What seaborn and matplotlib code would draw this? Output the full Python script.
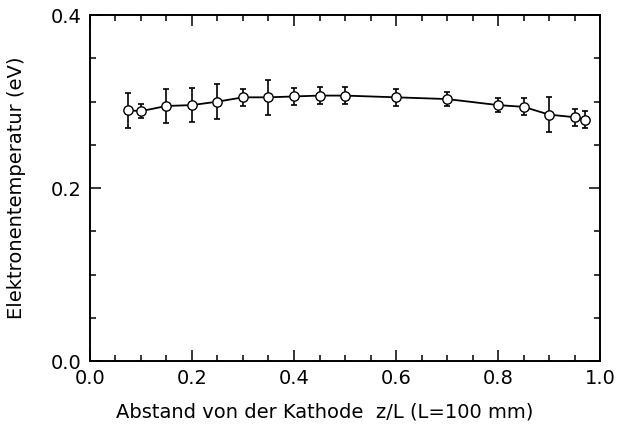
import numpy as np
import pandas as pd
import matplotlib
matplotlib.use("Agg")
import matplotlib.pyplot as plt
from matplotlib.ticker import MultipleLocator, FormatStrFormatter
import seaborn as sns

# Measured electron temperature along the discharge axis
z_over_L = [0.075, 0.10, 0.15, 0.20, 0.25, 0.30, 0.35, 0.40, 0.45, 0.50,
            0.60, 0.70, 0.80, 0.85, 0.90, 0.95, 0.97]
temperature_eV = [0.290, 0.289, 0.295, 0.296, 0.300, 0.305, 0.305, 0.306, 0.307, 0.307,
                  0.305, 0.303, 0.296, 0.294, 0.285, 0.282, 0.279]
error_eV = [0.020, 0.008, 0.020, 0.020, 0.020, 0.010, 0.020, 0.010, 0.010, 0.010,
            0.010, 0.008, 0.008, 0.010, 0.020, 0.010, 0.010]

df = pd.DataFrame({"z": z_over_L, "Te": temperature_eV, "err": error_eV})

sns.set_theme(style="white")
plt.rcParams["font.family"] = ["DejaVu Sans"]
plt.rcParams["text.color"] = "black"
plt.rcParams["axes.labelcolor"] = "black"
plt.rcParams["xtick.color"] = "black"
plt.rcParams["ytick.color"] = "black"

fig = plt.figure(figsize=(6.2, 4.33), dpi=100)
ax = fig.add_axes([0.145, 0.166, 0.823, 0.799])

sns.lineplot(data=df, x="z", y="Te", ax=ax, color="black", linewidth=1.3,
             estimator=None, sort=True)
ax.errorbar(df["z"], df["Te"], yerr=df["err"], fmt="none", ecolor="black",
            elinewidth=1.2, capsize=2.5, capthick=1.2)
sns.scatterplot(data=df, x="z", y="Te", ax=ax, marker="o", s=45,
                facecolor="white", edgecolor="black", linewidth=1.0, zorder=5)

ax.set_xlim(0.0, 1.0)
ax.set_ylim(0.0, 0.4)
ax.xaxis.set_major_locator(MultipleLocator(0.2))
ax.xaxis.set_minor_locator(MultipleLocator(0.05))
ax.yaxis.set_major_locator(MultipleLocator(0.2))
ax.yaxis.set_minor_locator(MultipleLocator(0.05))
ax.xaxis.set_major_formatter(FormatStrFormatter("%.1f"))
ax.yaxis.set_major_formatter(FormatStrFormatter("%.1f"))

ax.tick_params(which="both", direction="in", top=True, right=True,
               bottom=True, left=True, width=1.1)
ax.tick_params(which="major", length=8, labelsize=14, pad=6)
ax.tick_params(which="minor", length=4)

for side in ax.spines.values():
    side.set_color("black")
    side.set_linewidth(1.4)

ax.set_xlabel("Abstand von der Kathode  z/L (L=100 mm)", fontsize=14)
ax.set_ylabel("Elektronentemperatur (eV)", fontsize=14)
ax.xaxis.set_label_coords(0.46, -0.12)
ax.yaxis.set_label_coords(-0.125, 0.5)

fig.savefig("out.png", dpi=100, facecolor="white")
